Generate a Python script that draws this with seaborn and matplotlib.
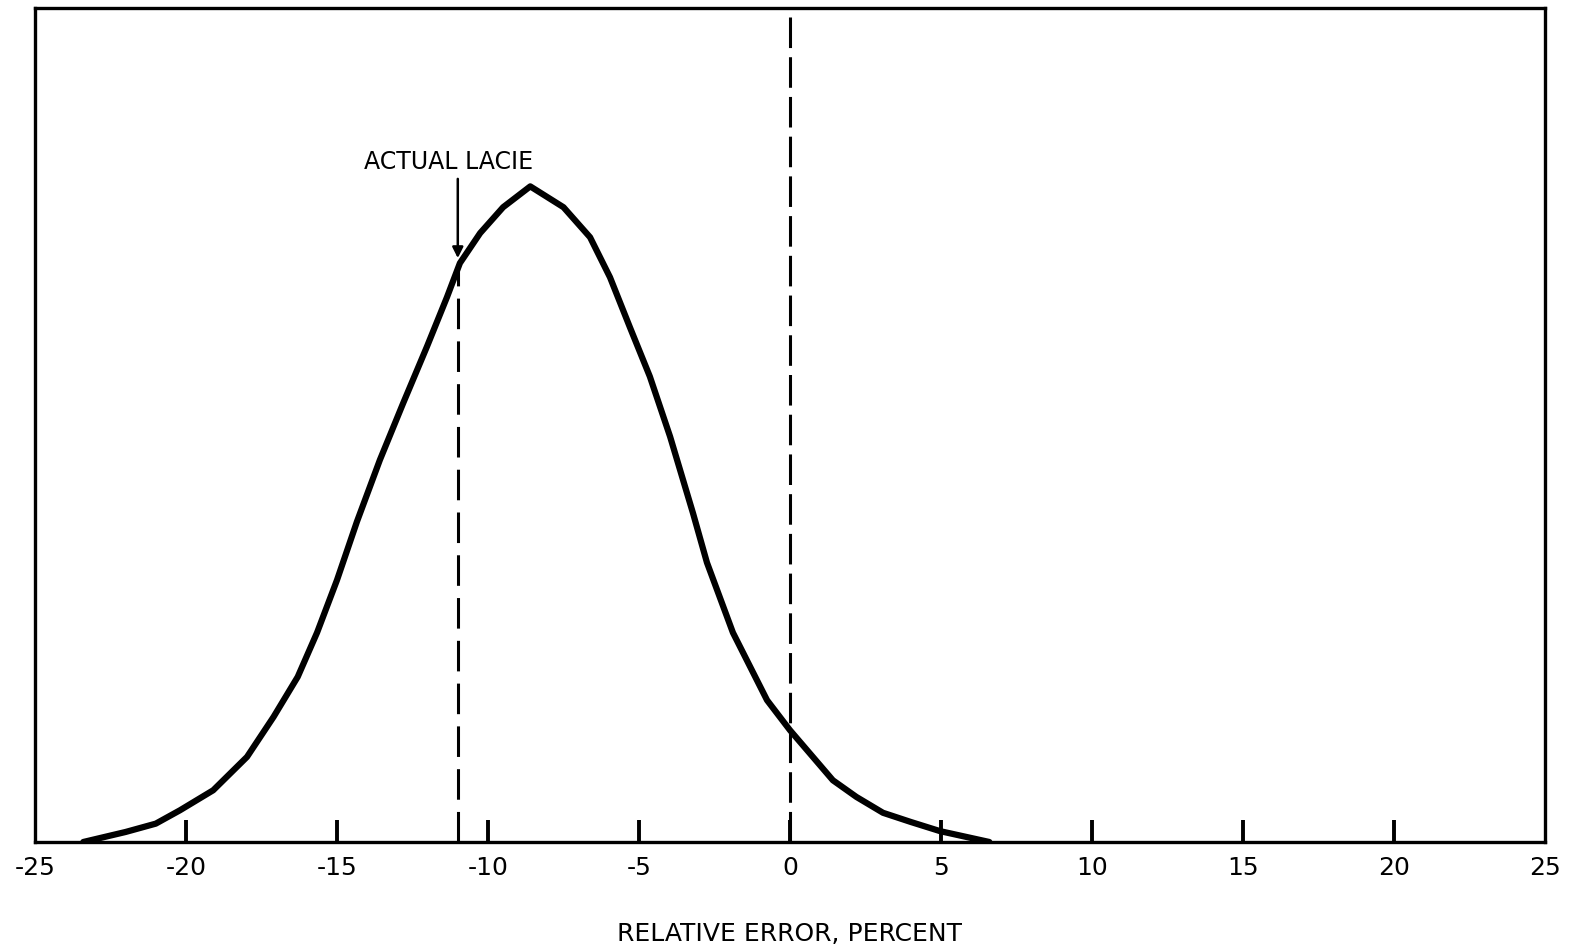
import numpy as np
import pandas as pd
import matplotlib
matplotlib.use('Agg')
import matplotlib.pyplot as plt
import seaborn as sns

# Curve (relative error in percent, relative frequency)
error_pct = [-23.4, -22.0, -21.0, -20.2, -19.1, -17.98, -17.1, -16.3, -15.66,
             -15.0, -14.34, -13.58, -12.81, -12.02, -11.36, -10.93, -10.26,
             -9.5, -8.6, -7.5, -6.62, -5.96, -5.3, -4.64, -3.97, -3.21, -2.75,
             -1.89, -0.76, 0.0, 1.42, 2.2, 3.08, 4.0, 4.97, 6.6]
frequency = [0.0, 0.012, 0.022, 0.038, 0.062, 0.102, 0.150, 0.198, 0.251,
             0.314, 0.384, 0.458, 0.526, 0.594, 0.653, 0.694, 0.730,
             0.761, 0.786, 0.761, 0.725, 0.677, 0.617, 0.558, 0.486, 0.394, 0.335,
             0.251, 0.170, 0.134, 0.074, 0.054, 0.035, 0.024, 0.013, 0.0]

actual_lacie = -11.0
actual_lacie_height = 0.69
zero_line = 0.0
x_ticks = [-25, -20, -15, -10, -5, 0, 5, 10, 15, 20, 25]

df = pd.DataFrame({'error': error_pct, 'freq': frequency})

sns.set_style('white')
plt.rcParams['font.family'] = ['DejaVu Sans']

fig = plt.figure(figsize=(15.69, 9.5), dpi=100)
ax = fig.add_axes([0.0223, 0.1137, 0.9624, 0.878])

sns.lineplot(data=df, x='error', y='freq', color='black', linewidth=4.5, ax=ax)

# dashed reference lines
ax.vlines(actual_lacie, 0, actual_lacie_height, colors='black', linewidth=2.2,
          linestyles=(0, (10, 4)))
ax.vlines(zero_line, 0, 1, colors='black', linewidth=2.2, linestyles=(0, (10, 3)))

# label with arrow
ax.text(-11.3, 0.815, 'ACTUAL LACIE', ha='center', va='center', fontsize=17,
        color='black')
ax.annotate('', xy=(actual_lacie, 0.700), xytext=(actual_lacie, 0.795),
            arrowprops=dict(arrowstyle='-|>', color='black', lw=1.8,
                            mutation_scale=16, shrinkA=0, shrinkB=0))

ax.set_xlim(-25, 25)
ax.set_ylim(0, 1)
ax.set_xticks(x_ticks)
ax.set_xticklabels([str(t) for t in x_ticks], fontsize=18, color='black')
ax.set_yticks([])
ax.tick_params(axis='x', bottom=True, direction='in', length=16, width=2.8,
               pad=10, color='black')
# end ticks sit on the frame, hide their marks
xt = ax.xaxis.get_major_ticks()
for t in (xt[0], xt[-1]):
    t.tick1line.set_visible(False)
ax.set_xlabel('RELATIVE ERROR, PERCENT', fontsize=18, labelpad=30, color='black')
ax.set_ylabel('')
for spine in ax.spines.values():
    spine.set_visible(True)
    spine.set_color('black')
    spine.set_linewidth(2.4)

fig.savefig('out.png', dpi=100, facecolor='white')
